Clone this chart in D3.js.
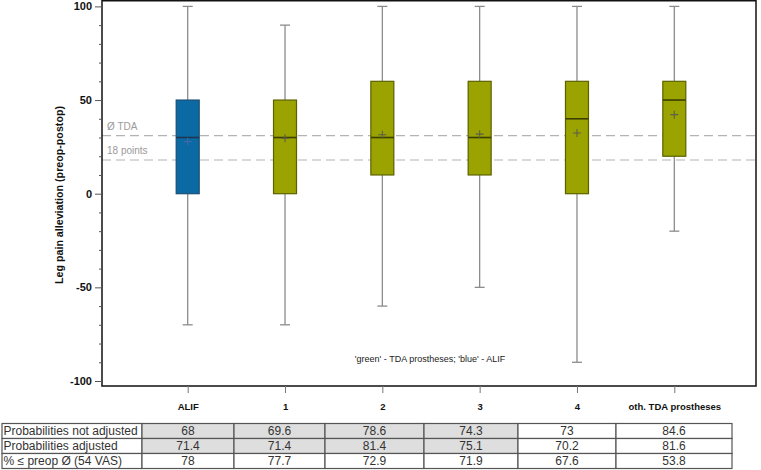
<!DOCTYPE html>
<html>
<head>
<meta charset="utf-8">
<script src="https://cdn.jsdelivr.net/npm/d3@7"></script>
<style>
  html, body { margin: 0; padding: 0; background: #fff; }
  svg { display: block; font-family: "Liberation Sans", Arial, sans-serif; }
</style>
</head>
<body>
<svg id="chart" width="761" height="470"></svg>
<script>
// ---------------- data ----------------
const categories = ["ALIF", "1", "2", "3", "4", "oth. TDA prostheses"];
const groupType  = ["ALIF", "TDA", "TDA", "TDA", "TDA", "TDA"];
const minVals    = [-70, -70, -60, -50, -90, -20];
const q1Vals     = [0, 0, 10, 10, 0, 20];
const medianVals = [30, 30, 30, 30, 40, 50];
const q3Vals     = [50, 50, 60, 60, 60, 60];
const maxVals    = [100, 90, 100, 100, 100, 100];
const meanVals   = [27.8, 29.6, 31.5, 31.8, 32.4, 42.2];

const refLines = [31, 18];
const refLabels = ["Ø TDA", "18 points"];
const yTicks = [-100, -50, 0, 50, 100];

const rowLabels = ["Probabilities not adjusted", "Probabilities adjusted", "% ≤ preop Ø (54 VAS)"];
const rowNotAdjusted = ["68", "69.6", "78.6", "74.3", "73", "84.6"];
const rowAdjusted    = ["71.4", "71.4", "81.4", "75.1", "70.2", "81.6"];
const rowPreop       = ["78", "77.7", "72.9", "71.9", "67.6", "53.8"];
const shadedCols = 4; // first four value columns shaded in rows 1-2

const note = "'green' - TDA prostheses; 'blue' - ALIF";

// ---------------- layout ----------------
const svg = d3.select("#chart");
const frame = { left: 102, right: 756, top: 0.75, bottom: 386 };

const y = d3.scaleLinear().domain([-100, 100]).range([381, 6.4]);
const x = d3.scalePoint().domain(categories).range([104, 758]).padding(0.86);

const fills = { ALIF: "#0b6aa3", TDA: "#9aa300" };
const strokes = { ALIF: "#1b4d73", TDA: "#5b6100" };
const medStroke = { ALIF: "#1d3550", TDA: "#3b3f00" };
const meanStroke = { ALIF: "#3d6aa8", TDA: "#5e5e4a" };

// reference dashed lines
const gRef = svg.append("g");
refLines.forEach((v, i) => {
  gRef.append("line")
    .attr("x1", frame.left).attr("x2", frame.right)
    .attr("y1", y(v)).attr("y2", y(v))
    .attr("stroke", "#b3b3b3").attr("stroke-width", 1.2)
    .attr("stroke-dasharray", "9,5");
  gRef.append("text")
    .attr("x", 107).attr("y", y(v) - 8.5)
    .attr("dominant-baseline", "middle")
    .attr("font-size", 10).attr("fill", "#9a9a9a")
    .text(refLabels[i]);
});

// boxes
const boxW = 23, capW = 10;
const gBox = svg.append("g");
categories.forEach((c, i) => {
  const cx = x(c);
  const t = groupType[i];
  const g = gBox.append("g");
  g.append("line").attr("x1", cx).attr("x2", cx)
    .attr("y1", y(maxVals[i])).attr("y2", y(q3Vals[i]))
    .attr("stroke", "#8c8c8c").attr("stroke-width", 1.3);
  g.append("line").attr("x1", cx).attr("x2", cx)
    .attr("y1", y(q1Vals[i])).attr("y2", y(minVals[i]))
    .attr("stroke", "#8c8c8c").attr("stroke-width", 1.3);
  [maxVals[i], minVals[i]].forEach(v => {
    g.append("line").attr("x1", cx - capW / 2).attr("x2", cx + capW / 2)
      .attr("y1", y(v)).attr("y2", y(v))
      .attr("stroke", "#8c8c8c").attr("stroke-width", 1.3);
  });
  g.append("rect")
    .attr("x", cx - boxW / 2).attr("y", y(q3Vals[i]))
    .attr("width", boxW).attr("height", y(q1Vals[i]) - y(q3Vals[i]))
    .attr("fill", fills[t]).attr("stroke", strokes[t]).attr("stroke-width", 1.2);
  g.append("line").attr("x1", cx - boxW / 2).attr("x2", cx + boxW / 2)
    .attr("y1", y(medianVals[i])).attr("y2", y(medianVals[i]))
    .attr("stroke", medStroke[t]).attr("stroke-width", 1.6);
  const my = y(meanVals[i]);
  g.append("path")
    .attr("d", `M${cx - 4},${my}H${cx + 4}M${cx},${my - 4}V${my + 4}`)
    .attr("stroke", meanStroke[t]).attr("stroke-width", 1.1).attr("fill", "none");
});

// frame
svg.append("rect")
  .attr("x", frame.left).attr("y", frame.top)
  .attr("width", frame.right - frame.left).attr("height", frame.bottom - frame.top)
  .attr("fill", "none").attr("stroke", "#111").attr("stroke-width", 1.5);

// y axis (minor)
const yMinor = d3.range(-100, 101, 10).filter(v => v % 50 !== 0);
svg.append("g").attr("transform", `translate(${frame.left},0)`)
  .call(d3.axisLeft(y).tickValues(yMinor).tickSize(3).tickFormat(""))
  .call(g => g.select(".domain").remove())
  .call(g => g.selectAll("line").attr("stroke", "#555"));
// y axis (major)
svg.append("g").attr("transform", `translate(${frame.left},0)`)
  .call(d3.axisLeft(y).tickValues(yTicks).tickSize(7).tickPadding(3).tickFormat(d => String(d)))
  .call(g => g.select(".domain").remove())
  .call(g => g.selectAll("line").attr("stroke", "#555"))
  .call(g => g.selectAll("text").attr("font-size", 11).attr("font-weight", "bold")
    .attr("fill", "#111").attr("font-family", "Liberation Sans, Arial, sans-serif"));

// y title
svg.append("text")
  .attr("transform", `translate(63,195) rotate(-90)`)
  .attr("text-anchor", "middle").attr("font-size", 10.5).attr("font-weight", "bold")
  .attr("fill", "#111")
  .attr("textLength", 178).attr("lengthAdjust", "spacingAndGlyphs")
  .text("Leg pain alleviation (preop-postop)");

// x axis
svg.append("g").attr("transform", `translate(0,${frame.bottom})`)
  .call(d3.axisBottom(x).tickSize(7).tickPadding(10.5))
  .call(g => g.select(".domain").remove())
  .call(g => g.selectAll("line").attr("stroke", "#777"))
  .call(g => g.selectAll("text").attr("font-size", 9.5).attr("font-weight", "bold")
    .attr("fill", "#111").attr("font-family", "Liberation Sans, Arial, sans-serif"));

// note
svg.append("text")
  .attr("x", 430).attr("y", 360).attr("text-anchor", "middle")
  .attr("dominant-baseline", "middle")
  .attr("font-size", 9).attr("fill", "#222")
  .text(note);

// ---------------- table ----------------
const colEdges = [2, 142, 234, 325, 424, 518, 616, 732];
const tableTop = 423.5, rowH = 15;
const rows = [rowNotAdjusted, rowAdjusted, rowPreop];
const gT = svg.append("g");
rows.forEach((vals, r) => {
  const ry = tableTop + r * rowH;
  gT.append("rect").attr("x", colEdges[0]).attr("y", ry)
    .attr("width", colEdges[1] - colEdges[0]).attr("height", rowH)
    .attr("fill", "#fff").attr("stroke", "#555").attr("stroke-width", 1.2);
  gT.append("text").attr("x", colEdges[0] + 1.5).attr("y", ry + rowH / 2 + 0.5)
    .attr("dominant-baseline", "middle").attr("font-size", 12).attr("fill", "#333")
    .text(rowLabels[r]);
  vals.forEach((v, c) => {
    const x0 = colEdges[c + 1], x1 = colEdges[c + 2];
    const shaded = r < 2 && c < shadedCols;
    gT.append("rect").attr("x", x0).attr("y", ry)
      .attr("width", x1 - x0).attr("height", rowH)
      .attr("fill", shaded ? "#dedede" : "#fff")
      .attr("stroke", "#555").attr("stroke-width", 1.2);
    gT.append("text").attr("x", (x0 + x1) / 2).attr("y", ry + rowH / 2 + 0.5)
      .attr("text-anchor", "middle").attr("dominant-baseline", "middle")
      .attr("font-size", 12).attr("fill", "#333")
      .text(v);
  });
});
</script>
</body>
</html>
